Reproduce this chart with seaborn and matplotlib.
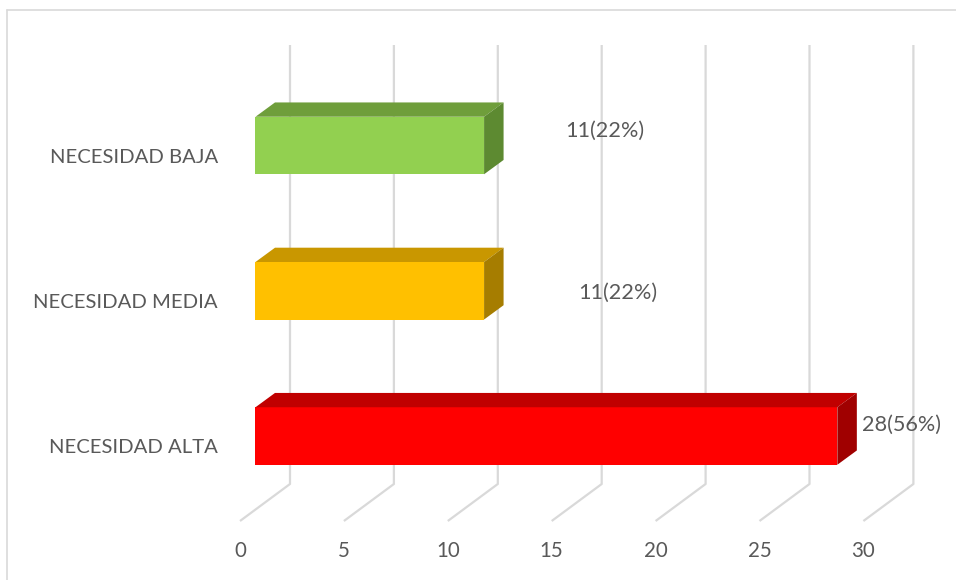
import matplotlib
matplotlib.use("Agg")
import matplotlib.pyplot as plt
import seaborn as sns
import pandas as pd
from matplotlib.patches import Polygon
from matplotlib.lines import Line2D

# ---- data ----
categories = ["NECESIDAD BAJA", "NECESIDAD MEDIA", "NECESIDAD ALTA"]
counts = [11, 11, 28]
value_labels = ["11(22%)", "11(22%)", "28(56%)"]
ticks = [0, 5, 10, 15, 20, 25, 30]

# ---- style ----
front_colors = ["#92D050", "#FFC000", "#FF0000"]
top_colors = ["#6F9E3B", "#C99700", "#C00000"]
side_colors = ["#5D8A31", "#A67D00", "#A00000"]
grid_color = "#D9D9D9"
text_color = "#595959"

sns.set_theme(style="white")
plt.rcParams["font.family"] = ["Lato", "DejaVu Sans"]

W, H = 956, 580
fig = plt.figure(figsize=(W / 100, H / 100), dpi=100)
ax = fig.add_axes([0, 0, 1, 1])

df = pd.DataFrame({"categoria": categories, "n": counts})
sns.barplot(data=df, y="categoria", x="n", hue="categoria", order=categories,
            hue_order=categories, palette=front_colors, orient="h",
            width=0.396, saturation=1, legend=False, ax=ax, zorder=3,
            linewidth=0)

# pixel-based calibration of the axes (x: value units, y: category units)
px_per_unit = 20.78
x0_px = 255.5          # front face of bars at value 0
y0_px = 145.5          # centre of first category front face
py_per_cat = 145.25
ax.set_xlim(-x0_px / px_per_unit, (W - x0_px) / px_per_unit)
ax.set_ylim((H - y0_px) / py_per_cat, -y0_px / py_per_cat)
ax.axis("off")

def dx(px):
    return px / px_per_unit

def dy(px):
    return px / py_per_cat

# depth offsets
bar_ddx, bar_ddy = dx(19.5), dy(-14.3)
back_dx = dx(290 - x0_px)
front_dx = dx(240 - x0_px)
grid_top = dy(45 - y0_px)
floor_back = dy(484 - y0_px)
floor_front = dy(521 - y0_px)
tick_y = dy(551 - y0_px)

# gridlines (back wall + floor)
for t in ticks:
    bx = t + back_dx
    fx = t + front_dx
    ax.plot([bx, bx, fx], [grid_top, floor_back, floor_front],
            color=grid_color, lw=1.6, zorder=1, solid_capstyle="butt")
    ax.text(fx, tick_y, str(t), ha="center", va="center", fontsize=14.8,
            color=text_color)

# 3D faces on bars
for p in ax.patches[:]:
    x0, y0 = p.get_x(), p.get_y()
    w, h = p.get_width(), p.get_height()
    i = int(round(y0 + h / 2))
    ytop, ybot = y0, y0 + h
    x1 = x0 + w
    top = Polygon([(x0, ytop), (x0 + bar_ddx, ytop + bar_ddy),
                   (x1 + bar_ddx, ytop + bar_ddy), (x1, ytop)],
                  closed=True, facecolor=top_colors[i], edgecolor="none",
                  zorder=3)
    side = Polygon([(x1, ytop), (x1 + bar_ddx, ytop + bar_ddy),
                    (x1 + bar_ddx, ybot + bar_ddy), (x1, ybot)],
                   closed=True, facecolor=side_colors[i], edgecolor="none",
                   zorder=3)
    ax.add_patch(top)
    ax.add_patch(side)

# category labels
for i, c in enumerate(categories):
    ax.text(dx(218 - x0_px), i + dy(11.5), c, ha="right", va="center",
            fontsize=14.6, color=text_color)

# value labels (Excel-like placement)
label_left_px = [565, 578, 862]
label_y_px = [131, 293, 425]
for i, lab in enumerate(value_labels):
    ax.text(dx(label_left_px[i] - x0_px), dy(label_y_px[i] - y0_px), lab,
            ha="left", va="center", fontsize=15.6, color=text_color)

# chart frame (top and left edges visible)
fig.add_artist(Line2D([7 / W, 1], [1 - 10 / H, 1 - 10 / H],
                      transform=fig.transFigure, color=grid_color, lw=1.2))
fig.add_artist(Line2D([7 / W, 7 / W], [0, 1 - 10 / H],
                      transform=fig.transFigure, color=grid_color, lw=1.2))

fig.savefig("out.png", dpi=100, facecolor="white")
